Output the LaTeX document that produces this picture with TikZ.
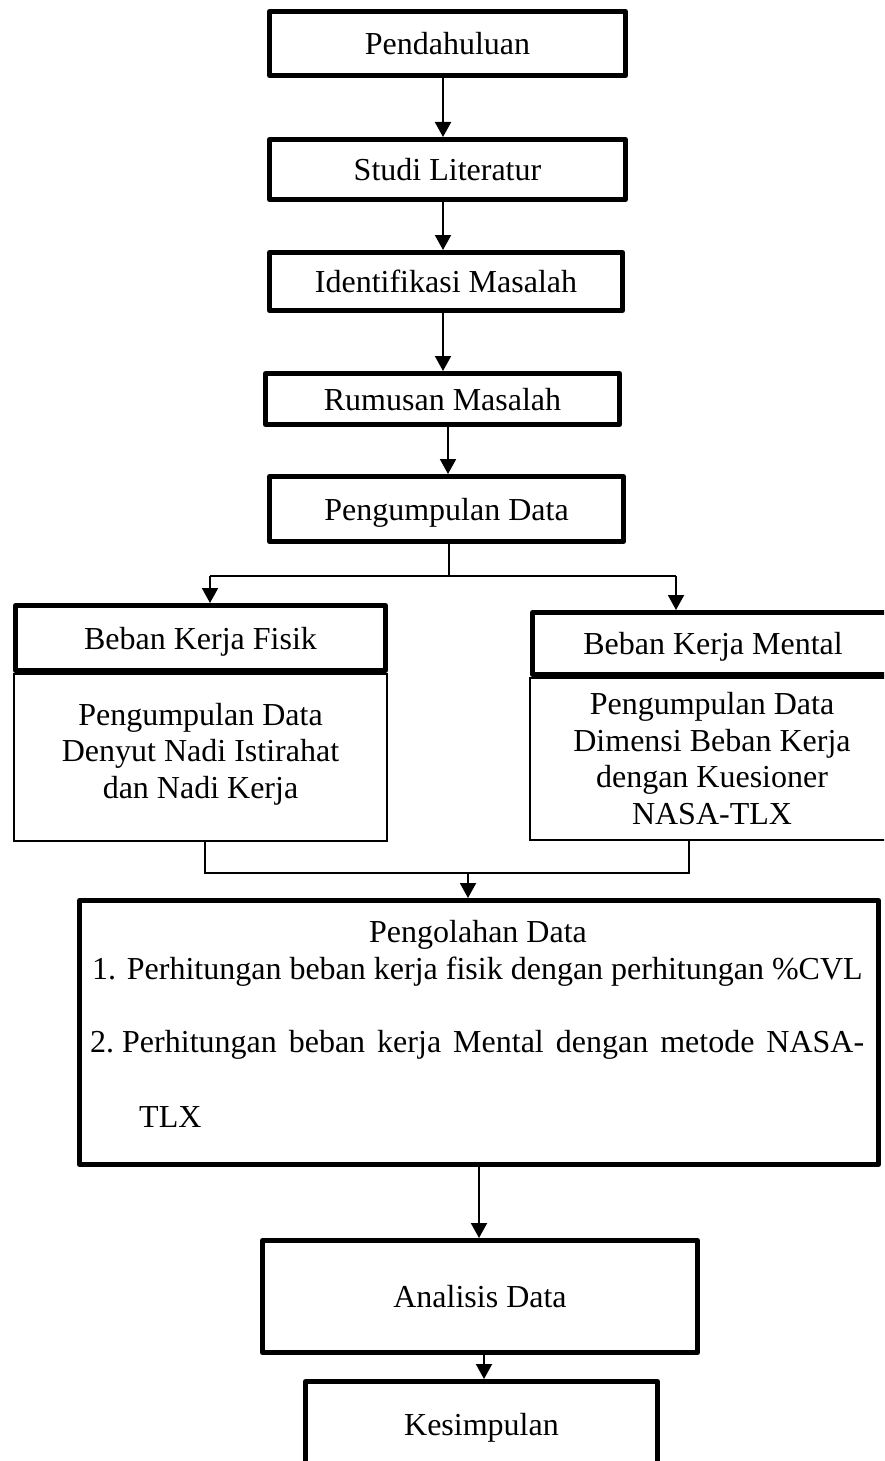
\documentclass[tikz,border=0pt]{standalone}
\usepackage{fontspec}
\setmainfont{Liberation Serif}
\usetikzlibrary{arrows.meta}
\begin{document}
\begin{tikzpicture}[x=1pt,y=-1pt,
  txt/.style={font=\fontsize{32}{36.5}\selectfont},
  hbox/.style={draw, line width=5pt, line join=round, inner sep=0pt, txt, text height=22pt, text depth=0pt},
  bodybox/.style={draw, line width=2pt, inner sep=0pt, txt, align=center},
  bigbox/.style={draw, line width=5pt, line join=round, inner sep=0pt},
  plain/.style={txt, inner sep=0pt},
  conn/.style={line width=2pt},
  arr/.style={conn, -{Triangle[width=16pt,length=15pt]}}]
\clip (0,0) rectangle (884,1461);
\fill[white] (0,0) rectangle (884,1461);

% main column
\node[hbox, minimum width=356pt, minimum height=64pt] (pend) at (447.5,43.5) {Pendahuluan};
\node[hbox, minimum width=356pt, minimum height=60pt] (stud) at (447.5,169.5) {Studi Literatur};
\node[hbox, minimum width=353pt, minimum height=58pt] (iden) at (446,281.5) {Identifikasi Masalah};
\node[hbox, minimum width=354pt, minimum height=51pt] (rumus) at (442.5,399) {Rumusan Masalah};
\node[hbox, minimum width=354pt, minimum height=65pt] (pd) at (446.5,509) {Pengumpulan Data};

% two branches
\node[bodybox, minimum width=373pt, minimum height=167pt] (fisikb) at (200.5,757)
  {\raisebox{0pt}[22pt][0pt]{}Pengumpulan Data\\Denyut Nadi Istirahat\\dan Nadi Kerja\rule[-13pt]{0pt}{13pt}};
\node[hbox, minimum width=370pt, minimum height=65pt] (fisik) at (200.5,638) {Beban Kerja Fisik};
\node[bodybox, minimum width=364pt, minimum height=162pt] (mentalb) at (712,758.5)
  {Pengumpulan Data\\Dimensi Beban Kerja\\dengan Kuesioner\\NASA-TLX};
\node[hbox, minimum width=361pt, minimum height=62pt] (mental) at (713,643.5) {Beban Kerja Mental};

% processing box
\node[bigbox, minimum width=799pt, minimum height=264pt] (proc) at (479,1032.5) {};
\node[plain, anchor=base] (pt) at (478,942) {Pengolahan Data};
\node[plain, anchor=base west] (pl1) at (92,979) {1. Perhitungan beban kerja fisik dengan perhitungan \%CVL};
\node[plain, anchor=base west] (pl2) at (90,1052) {\hbox to 774pt{2.\kern8pt Perhitungan beban kerja Mental dengan metode NASA-}};
\node[plain, anchor=base west] (pl3) at (139,1127) {TLX};

\node[hbox, minimum width=435pt, minimum height=112pt] (anal) at (480,1296.5) {Analisis Data};
\node[hbox, minimum width=352pt, minimum height=85pt] (kes) at (481.5,1424) {Kesimpulan};

% connectors
\draw[arr] ([xshift=-4.5pt]pend.south) -- ([xshift=-4.5pt]pend.south |- stud.north);
\draw[arr] ([xshift=-4.5pt]stud.south) -- ([xshift=-4.5pt]stud.south |- iden.north);
\draw[arr] ([xshift=-3pt]iden.south) -- ([xshift=-3pt]iden.south |- rumus.north);
\draw[arr] ([xshift=5.5pt]rumus.south) -- ([xshift=5.5pt]rumus.south |- pd.north);

\coordinate (sp) at (449,576);
\coordinate (spl) at (210,576);
\coordinate (spr) at (676,576);
\draw[conn] (pd.south -| sp) -- (sp);
\draw[conn] (spl) -- (spr);
\draw[arr] (spl) -- (spl |- fisik.north);
\draw[arr] (spr) -- (spr |- mental.north);

\coordinate (ml) at (205,873);
\coordinate (mr) at (689,873);
\coordinate (mm) at (468,873);
\draw[conn] (fisikb.south -| ml) -- (ml) -- (mr) -- (mentalb.south -| mr);
\draw[arr] (mm) -- (mm |- proc.north);

\draw[arr] (proc.south) -- (proc.south |- anal.north);
\draw[arr] ([xshift=4pt]anal.south) -- ([xshift=4pt]anal.south |- kes.north);
\end{tikzpicture}
\end{document}
